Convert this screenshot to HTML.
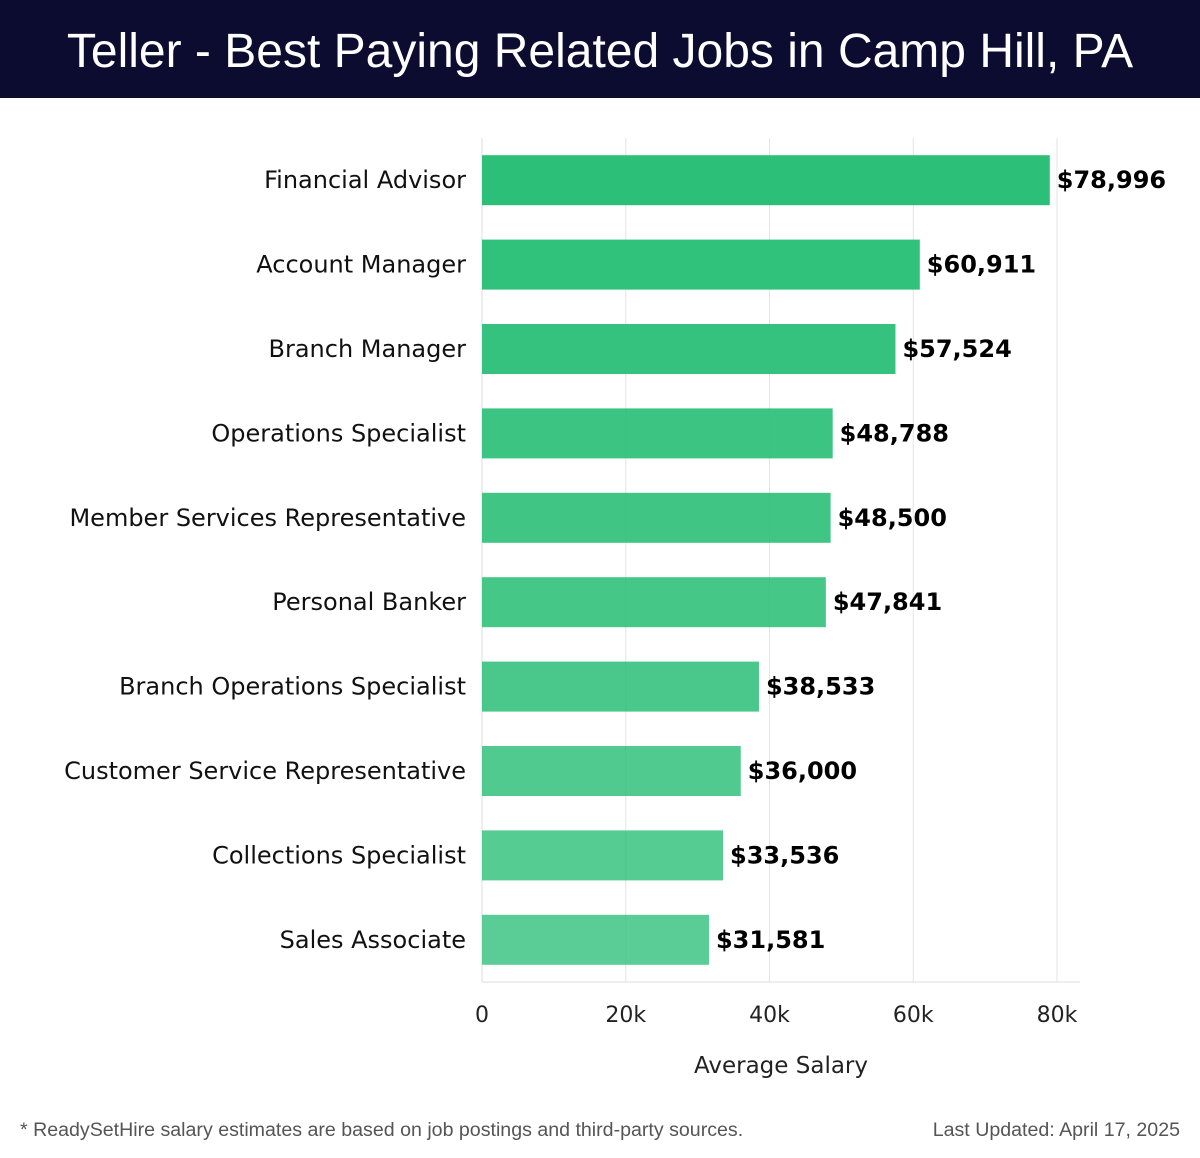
<!DOCTYPE html>
<html><head><meta charset="utf-8"><style>
body{margin:0;width:1200px;height:1158px;background:#fff;font-family:"DejaVu Sans","Liberation Sans",sans-serif;overflow:hidden;position:relative}
#hdr{position:absolute;left:0;top:0;width:1200px;height:98px;background:#0b0c30;color:#fff;font-family:"Liberation Sans",sans-serif;font-size:48px;text-align:center;line-height:104px}
.foot{position:absolute;top:1119px;font-size:19.6px;color:#555;font-family:"Liberation Sans",sans-serif}
</style></head><body>
<div id="hdr">Teller - Best Paying Related Jobs in Camp Hill, PA</div>
<svg id="chart" width="1200" height="1100" style="position:absolute;left:0;top:0"></svg>
<div class="foot" style="left:20px">* ReadySetHire salary estimates are based on job postings and third-party sources.</div>
<div class="foot" style="right:20px">Last Updated: April 17, 2025</div>
<script>
const categories=["Financial Advisor","Account Manager","Branch Manager","Operations Specialist","Member Services Representative","Personal Banker","Branch Operations Specialist","Customer Service Representative","Collections Specialist","Sales Associate"];
const values=[78996,60911,57524,48788,48500,47841,38533,36000,33536,31581];
const ticks=[0,20000,40000,60000,80000];
const tickLabels=["0","20k","40k","60k","80k"];
const NS="http://www.w3.org/2000/svg";
const svg=document.getElementById('chart');
const x0=482,x1=1057,top0=138,bot=982;
const xs=v=>x0+(v-0)/80000*(x1-x0);
const step=(bot-top0)/categories.length;
const yc=i=>top0+step*(i+0.5);
function mk(t,a){const e=document.createElementNS(NS,t);for(const k in a)e.setAttribute(k,a[k]);svg.appendChild(e);return e;}
ticks.forEach((t,i)=>{
 const g=mk('line',{x1:xs(t),x2:xs(t),y1:top0,y2:bot,stroke:'#e3e3e3','stroke-width':1});
 
 
 const tx=mk('text',{x:xs(t),y:1022,'text-anchor':'middle','font-size':22,fill:'#222'});
 tx.textContent=tickLabels[i];
 
 
});
const ax=mk('line',{x1:x0,x2:1080,y1:bot,y2:bot,stroke:'#ddd'});


const ay=mk('line',{x1:x0,x2:x0,y1:top0,y2:bot,stroke:'#ddd'});


categories.forEach((c,i)=>{
 const y=yc(i);
 const op=1-0.22*i/(categories.length-1);
 const r=mk('rect',{x:x0,y:y-25,width:xs(values[i])-x0,height:50,fill:'#2bbf78','fill-opacity':op.toFixed(3)});
 
 
 const l=mk('text',{x:466,y:y+8,'text-anchor':'end','font-size':24,fill:'#111'});
 l.textContent=c;
 
 
 const v=mk('text',{x:xs(values[i])+7,y:y+8,'font-size':24,'font-weight':'bold',fill:'#000'});
 v.textContent='$'+values[i].toLocaleString('en-US');
 
 
});
const xt=mk('text',{x:781,y:1073,'text-anchor':'middle','font-size':23,fill:'#222'});
xt.textContent='Average Salary';


</script>
</body></html>
